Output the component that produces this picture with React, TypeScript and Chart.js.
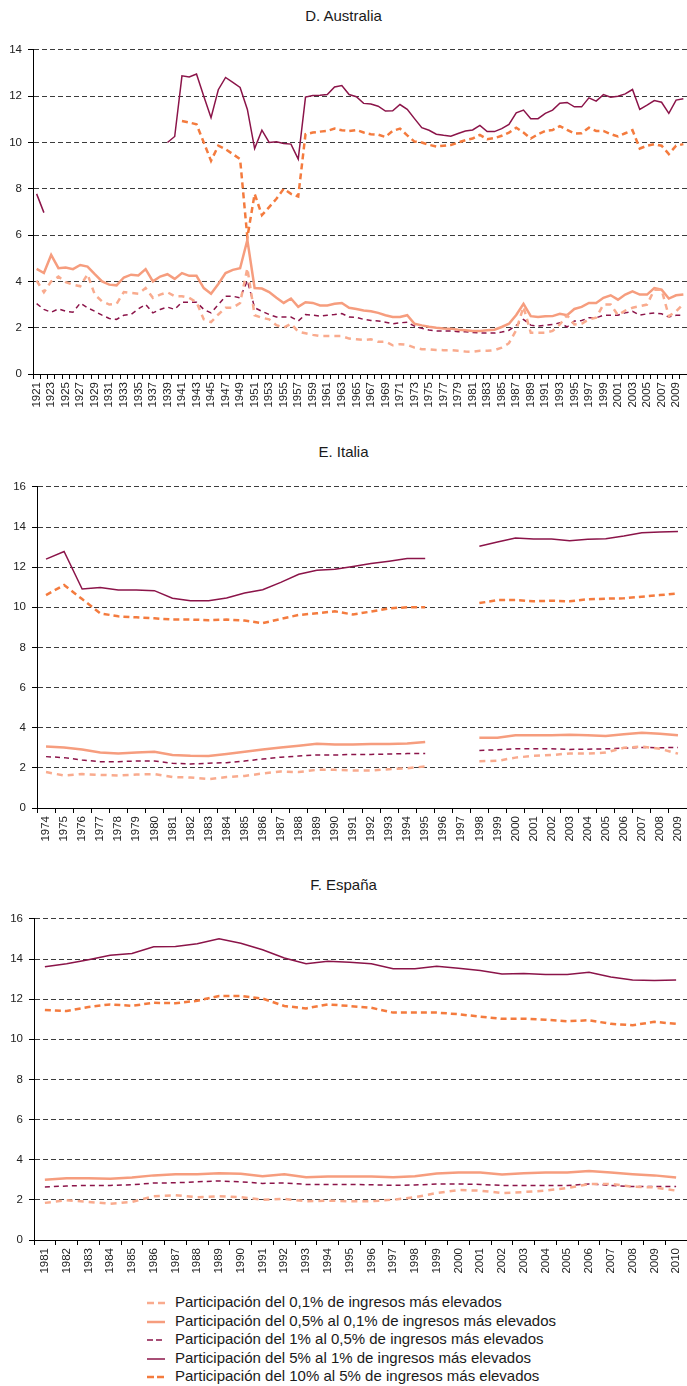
import React, { useEffect, useRef } from 'react';
import { Chart, registerables } from 'chart.js';

Chart.register(...registerables);

const FONT = '"Liberation Sans", Arial, Helvetica, sans-serif';

// ---------- Series labels ----------
const seriesLabels = [
  'Participación del 0,1% de ingresos más elevados',
  'Participación del 0,5% al 0,1% de ingresos más elevados',
  'Participación del 1% al 0,5% de ingresos más elevados',
  'Participación del 5% al 1% de ingresos más elevados',
  'Participación del 10% al 5% de ingresos más elevados',
];

// ---------- D. Australia (1921-2010) ----------
const ausYears: string[] = [];
for (let y = 1921; y <= 2010; y++) ausYears.push(String(y));

const ausTop01 = [
  4.03, 3.53, 4.0, 4.21, 3.97, 3.86, 3.79, 4.31, 3.43,
  3.14, 3.0, 3.03, 3.54, 3.5, 3.47, 3.71, 3.29, 3.43, 3.53,
  3.36, 3.36, 3.29, 3.1, 2.36, 2.24, 2.57, 2.86, 2.86, 3.07,
  4.57, 2.54, 2.43, 2.36, 2.11, 2.0, 2.17, 1.83, 1.76, 1.69,
  1.64, 1.64, 1.64, 1.64, 1.53, 1.5, 1.47, 1.5, 1.39, 1.4,
  1.24, 1.29, 1.26, 1.14, 1.07, 1.07, 1.04, 1.03, 1.03, 1.0,
  0.97, 0.96, 1.0, 1.0, 1.03, 1.14, 1.33, 1.9, 2.9, 1.78,
  1.78, 1.78, 1.86, 2.14, 2.54, 2.14, 2.17, 2.36, 2.43, 3.0,
  3.0, 2.54, 2.74, 2.86, 2.93, 3.0, 3.64, 3.64, 2.5, 2.71, 3.03,
];
const ausTop05to01 = [
  4.54, 4.36, 5.14, 4.57, 4.6, 4.53, 4.71, 4.64, 4.31,
  4.0, 3.86, 3.83, 4.17, 4.29, 4.26, 4.53, 4.0, 4.21, 4.31,
  4.11, 4.36, 4.24, 4.24, 3.71, 3.47, 3.89, 4.36, 4.5, 4.57,
  5.79, 3.71, 3.69, 3.54, 3.29, 3.07, 3.26, 2.9, 3.1, 3.07,
  2.96, 2.96, 3.03, 3.07, 2.86, 2.81, 2.74, 2.71, 2.64, 2.54,
  2.46, 2.46, 2.54, 2.17, 2.1, 2.04, 2.0, 1.97, 1.96, 1.91,
  1.89, 1.86, 1.86, 1.89, 1.91, 2.03, 2.17, 2.55, 3.03, 2.5,
  2.46, 2.49, 2.5, 2.6, 2.54, 2.81, 2.9, 3.07, 3.07, 3.29,
  3.4, 3.21, 3.43, 3.57, 3.43, 3.43, 3.71, 3.64, 3.26, 3.4, 3.43,
];
const ausTop1to05 = [
  3.04, 2.79, 2.67, 2.81, 2.71, 2.67, 3.06, 2.86, 2.71,
  2.54, 2.4, 2.36, 2.54, 2.57, 2.81, 3.01, 2.64, 2.79, 2.89,
  2.79, 3.1, 3.1, 3.1, 2.79, 2.64, 3.0, 3.36, 3.36, 3.29,
  4.03, 2.86, 2.71, 2.57, 2.46, 2.46, 2.46, 2.29, 2.57, 2.54,
  2.5, 2.54, 2.57, 2.61, 2.46, 2.45, 2.36, 2.31, 2.29, 2.24,
  2.17, 2.21, 2.24, 2.07, 1.97, 1.9, 1.86, 1.86, 1.86, 1.83,
  1.83, 1.79, 1.77, 1.77, 1.77, 1.81, 1.89, 2.1, 2.36, 2.11,
  2.07, 2.11, 2.14, 2.21, 2.03, 2.29, 2.31, 2.43, 2.43, 2.54,
  2.54, 2.54, 2.64, 2.71, 2.54, 2.6, 2.64, 2.6, 2.46, 2.54, 2.54,
];
const ausTop5to1 = [
  7.78, 6.97, null, null, null, null, null, null, null,
  null, null, null, null, null, null, null, null, null, 10.0,
  10.26, 12.88, 12.83, 12.96, 12.0, 11.07, 12.28, 12.81, 12.6, 12.38,
  11.43, 9.74, 10.53, 10.0, 10.03, 9.96, 9.93, 9.28, 11.96, 12.03,
  12.04, 12.07, 12.4, 12.46, 12.07, 11.98, 11.69, 11.66, 11.57, 11.36,
  11.37, 11.64, 11.43, 11.03, 10.64, 10.53, 10.36, 10.31, 10.27, 10.39,
  10.5, 10.54, 10.74, 10.47, 10.47, 10.6, 10.78, 11.28, 11.4, 11.03,
  11.03, 11.26, 11.4, 11.7, 11.73, 11.54, 11.54, 11.93, 11.79, 12.07,
  11.96, 12.0, 12.1, 12.29, 11.43, 11.61, 11.81, 11.74, 11.26, 11.83, 11.89,
];
const ausTop10to5 = [
  null, null, null, null, null, null, null, null, null,
  null, null, null, null, null, null, null, null, null, null,
  null, 10.93, 10.86, 10.79, 10.0, 9.21, 9.86, 9.71, 9.5, 9.28,
  5.9, 7.78, 6.86, 7.21, 7.57, 8.0, 7.78, 7.67, 10.36, 10.43,
  10.47, 10.5, 10.6, 10.53, 10.5, 10.54, 10.43, 10.36, 10.34, 10.24,
  10.5, 10.6, 10.31, 10.04, 10.0, 9.9, 9.83, 9.86, 9.89, 10.0,
  10.1, 10.17, 10.33, 10.14, 10.19, 10.29, 10.43, 10.64, 10.43, 10.17,
  10.36, 10.5, 10.54, 10.71, 10.54, 10.39, 10.4, 10.64, 10.5, 10.5,
  10.36, 10.26, 10.4, 10.53, 9.74, 9.86, 9.93, 9.86, 9.5, 9.86, 9.93,
];

// ---------- E. Italia (1974-2009) ----------
const itYears: string[] = [];
for (let y = 1974; y <= 2009; y++) itYears.push(String(y));

const itTop01 = [
  1.79, 1.62, 1.69, 1.65, 1.62, 1.67, 1.69, 1.54, 1.52, 1.44,
  1.54, 1.6, 1.72, 1.82, 1.79, 1.9, 1.9, 1.87, 1.87, 1.93,
  1.98, 2.07, null, null, 2.33, 2.35, 2.51, 2.6, 2.64, 2.72,
  2.71, 2.76, 3.0, 3.06, 2.95, 2.71,
];
const itTop05to01 = [
  3.06, 3.02, 2.92, 2.77, 2.72, 2.77, 2.8, 2.64, 2.6, 2.59,
  2.69, 2.8, 2.92, 3.02, 3.1, 3.2, 3.17, 3.17, 3.19, 3.19,
  3.22, 3.29, null, null, 3.5, 3.5, 3.62, 3.62, 3.62, 3.65,
  3.62, 3.59, 3.67, 3.75, 3.7, 3.62,
];
const itTop1to05 = [
  2.56, 2.51, 2.39, 2.31, 2.31, 2.34, 2.34, 2.23, 2.19, 2.23,
  2.26, 2.34, 2.44, 2.53, 2.59, 2.64, 2.64, 2.67, 2.67, 2.69,
  2.71, 2.71, null, null, 2.87, 2.9, 2.95, 2.95, 2.95, 2.92,
  2.93, 2.95, 2.98, 3.02, 3.0, 3.02,
];
const itTop5to1 = [
  12.4, 12.78, 10.91, 10.99, 10.86, 10.86, 10.83, 10.45, 10.33, 10.33,
  10.46, 10.71, 10.88, 11.24, 11.65, 11.85, 11.9, 12.03, 12.18, 12.3,
  12.43, 12.43, null, null, 13.04, 13.25, 13.45, 13.4, 13.4, 13.32,
  13.39, 13.42, 13.55, 13.72, 13.75, 13.78,
];
const itTop10to5 = [
  10.61, 11.11, 10.41, 9.7, 9.55, 9.5, 9.45, 9.39, 9.39, 9.36,
  9.39, 9.34, 9.21, 9.42, 9.62, 9.7, 9.8, 9.64, 9.79, 9.95,
  10.0, 10.0, null, null, 10.21, 10.36, 10.36, 10.3, 10.33, 10.3,
  10.4, 10.43, 10.45, 10.53, 10.61, 10.69,
];

// ---------- F. España (1981-2010) ----------
const esYears: string[] = [];
for (let y = 1981; y <= 2010; y++) esYears.push(String(y));

const esTop01 = [
  1.85, 1.98, 1.9, 1.81, 1.9, 2.18, 2.23, 2.13, 2.18, 2.13,
  2.01, 2.05, 1.93, 1.96, 1.93, 1.93, 2.01, 2.13, 2.34, 2.49,
  2.46, 2.34, 2.39, 2.46, 2.59, 2.79, 2.79, 2.66, 2.62, 2.46,
];
const esTop05to01 = [
  3.0, 3.08, 3.08, 3.05, 3.12, 3.22, 3.28, 3.28, 3.33, 3.3,
  3.18, 3.27, 3.13, 3.17, 3.17, 3.17, 3.13, 3.18, 3.31, 3.36,
  3.36, 3.27, 3.33, 3.36, 3.36, 3.44, 3.36, 3.28, 3.22, 3.12,
];
const esTop1to05 = [
  2.64, 2.69, 2.72, 2.72, 2.75, 2.84, 2.85, 2.9, 2.94, 2.9,
  2.82, 2.84, 2.77, 2.77, 2.77, 2.75, 2.72, 2.74, 2.79, 2.79,
  2.77, 2.72, 2.72, 2.72, 2.72, 2.79, 2.72, 2.66, 2.66, 2.67,
];
const esTop5to1 = [
  13.61, 13.76, 13.97, 14.19, 14.28, 14.61, 14.63, 14.76, 15.01, 14.79,
  14.46, 14.05, 13.77, 13.89, 13.84, 13.77, 13.52, 13.52, 13.64, 13.54,
  13.43, 13.26, 13.28, 13.23, 13.23, 13.34, 13.1, 12.96, 12.93, 12.96,
];
const esTop10to5 = [
  11.46, 11.41, 11.61, 11.74, 11.67, 11.82, 11.8, 11.92, 12.16, 12.16,
  12.03, 11.66, 11.54, 11.74, 11.66, 11.57, 11.33, 11.33, 11.33, 11.25,
  11.13, 11.02, 11.03, 10.98, 10.9, 10.95, 10.77, 10.7, 10.87, 10.77,
];

// ---------- Styles ----------
const PURPLE = '#8B1449';
const ORANGE = '#F47B3E';
const SALMON = '#F69D7E';
const SALMON_LIGHT = '#F9AB8E';

const seriesStyles = [
  { color: SALMON_LIGHT, width: 2.5, dash: [6, 5] },
  { color: SALMON, width: 2.5, dash: [] as number[] },
  { color: PURPLE, width: 1.5, dash: [5, 4] },
  { color: PURPLE, width: 1.5, dash: [] as number[] },
  { color: ORANGE, width: 2.5, dash: [6, 4] },
];

type BlockProps = {
  labels: string[];
  series: (number | null)[][];
  yMax: number;
  axisWidth: number;
  top: number;
  height: number;
  every: number;
};

function ChartBlock({ labels, series, yMax, axisWidth, top, height, every }: BlockProps) {
  const ref = useRef<HTMLCanvasElement | null>(null);
  useEffect(() => {
    if (!ref.current) return;
    const tickFont = { family: FONT, size: 11.5 };
    const chart = new Chart(ref.current, {
      type: 'line',
      data: {
        labels,
        datasets: series.map((d, i) => ({
          label: seriesLabels[i],
          data: d,
          borderColor: seriesStyles[i].color,
          backgroundColor: seriesStyles[i].color,
          borderWidth: seriesStyles[i].width,
          borderDash: seriesStyles[i].dash,
          pointRadius: 0,
          tension: 0,
          spanGaps: false,
          fill: false,
        })),
      },
      options: {
        animation: false,
        responsive: false,
        maintainAspectRatio: false,
        layout: { padding: { top: 9, right: 0, bottom: 0, left: 0 } },
        plugins: {
          legend: { display: false },
          tooltip: { enabled: false },
          title: { display: false },
        },
        scales: {
          x: {
            type: 'category',
            offset: true,
            grid: {
              display: true,
              drawOnChartArea: false,
              drawTicks: true,
              tickLength: 5,
              tickColor: '#000',
              tickWidth: 1,
              offset: true,
            },
            border: { display: true, color: '#000', width: 1 },
            ticks: {
              autoSkip: false,
              maxRotation: 90,
              minRotation: 90,
              padding: 3,
              color: '#222',
              font: tickFont,
              callback: (_v: any, i: number) => (i % every === 0 ? labels[i] : ''),
            },
            afterFit: (s: any) => {
              s.height = 45;
              s.paddingLeft = 0;
              s.paddingRight = 0;
            },
          },
          y: {
            min: 0,
            max: yMax,
            ticks: { stepSize: 2, padding: 6, color: '#222', font: tickFont },
            grid: {
              color: '#3c3c3c',
              lineWidth: 1,
              drawTicks: true,
              tickLength: 5,
              tickColor: '#000',
              tickBorderDash: [],
            },
            border: { display: true, color: '#000', width: 1, dash: [5, 3] },
            afterFit: (s: any) => {
              s.width = axisWidth;
            },
          },
        },
      } as any,
    });
    return () => chart.destroy();
  }, []);
  return (
    <canvas
      ref={ref}
      width={687}
      height={height}
      style={{ position: 'absolute', left: 0, top, width: 687, height }}
    />
  );
}

function Title({ text, top }: { text: string; top: number }) {
  return (
    <div
      style={{
        position: 'absolute',
        left: 0,
        top,
        width: 687,
        textAlign: 'center',
        fontFamily: FONT,
        fontSize: 15,
        lineHeight: '18px',
        color: '#1a1a1a',
      }}
    >
      {text}
    </div>
  );
}

function LegendSample({ color, width, dash }: { color: string; width: number; dash: number[] }) {
  return (
    <svg width={20} height={10} style={{ position: 'absolute', left: 147, top: 6 }}>
      <line
        x1={0}
        y1={5}
        x2={18}
        y2={5}
        stroke={color}
        strokeWidth={width}
        strokeDasharray={dash.length ? `${dash[0] + 1} ${dash[1] - 1}` : undefined}
      />
    </svg>
  );
}

export default function App() {
  const legendTop = 1292;
  const rowH = 18.5;
  return (
    <div
      style={{
        position: 'absolute',
        left: 0,
        top: 0,
        width: 687,
        height: 1386,
        background: '#fff',
        overflow: 'hidden',
      }}
    >
      <Title text="D. Australia" top={7} />
      <ChartBlock
        labels={ausYears}
        series={[ausTop01, ausTop05to01, ausTop1to05, ausTop5to1, ausTop10to5]}
        yMax={14}
        axisWidth={33}
        top={37}
        height={382}
        every={2}
      />
      <Title text="E. Italia" top={443} />
      <ChartBlock
        labels={itYears}
        series={[itTop01, itTop05to01, itTop1to05, itTop5to1, itTop10to5]}
        yMax={16}
        axisWidth={37}
        top={474}
        height={379}
        every={1}
      />
      <Title text="F. España" top={876} />
      <ChartBlock
        labels={esYears}
        series={[esTop01, esTop05to01, esTop1to05, esTop5to1, esTop10to5]}
        yMax={16}
        axisWidth={34}
        top={906}
        height={379}
        every={1}
      />
      {seriesLabels.map((lab, i) => (
        <div
          key={lab}
          style={{
            position: 'absolute',
            left: 0,
            top: legendTop + i * rowH,
            width: 687,
            height: 20,
          }}
        >
          <LegendSample {...seriesStyles[i]} />
          <div
            style={{
              position: 'absolute',
              left: 175,
              top: 0,
              fontFamily: FONT,
              fontSize: 15,
              lineHeight: '20px',
              color: '#1a1a1a',
              whiteSpace: 'nowrap',
            }}
          >
            {lab}
          </div>
        </div>
      ))}
    </div>
  );
}
